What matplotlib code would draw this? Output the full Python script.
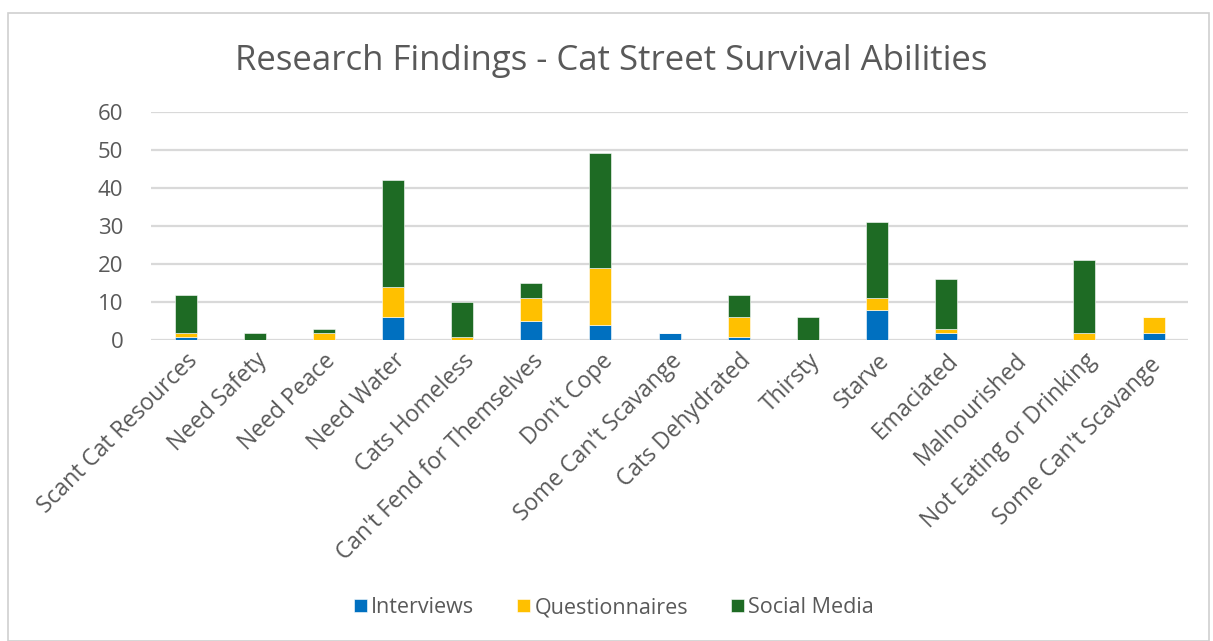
import numpy as np
import matplotlib
matplotlib.use("Agg")
import matplotlib.pyplot as plt
from matplotlib.patches import Rectangle

# ── Survey counts per finding ─────────────────────────────
categories = [
    "Scant Cat Resources", "Need Safety", "Need Peace", "Need Water",
    "Cats Homeless", "Can't Fend for Themselves", "Don't Cope",
    "Some Can't Scavange", "Cats Dehydrated", "Thirsty", "Starve",
    "Emaciated", "Malnourished", "Not Eating or Drinking",
    "Some Can't Scavange ",
]
interviews     = [1, 0, 0, 6, 0, 5, 4, 2, 1, 0, 8, 2, 0, 0, 2]
questionnaires = [1, 0, 2, 8, 1, 6, 15, 0, 5, 0, 3, 1, 0, 2, 4]
social_media   = [10, 2, 1, 28, 9, 4, 30, 0, 6, 6, 20, 13, 0, 19, 0]
y_ticks = [0, 10, 20, 30, 40, 50, 60]

plt.rcParams['font.family'] = ['Open Sans', 'DejaVu Sans']
TEXT = '#595959'

fig = plt.figure(figsize=(12.13, 6.41), dpi=100)
fig.patches.append(Rectangle((0.007, 0.0), 0.99, 0.98, transform=fig.transFigure,
                             fill=False, edgecolor='#d0d0d0', linewidth=1.2))
ax = fig.add_axes([0.1245, 0.469, 0.855, 0.357])

x = np.arange(len(categories))
iv = np.array(interviews)
qs = np.array(questionnaires)
sm = np.array(social_media)
w = 0.32
edge = dict(edgecolor='white', linewidth=0.4)
ax.bar(x, iv, w, color='#0070C0', label='Interviews', zorder=3, **edge)
ax.bar(x, qs, w, bottom=iv, color='#FFC000', label='Questionnaires', zorder=3, **edge)
ax.bar(x, sm, w, bottom=iv + qs, color='#1E6B24', label='Social Media', zorder=3, **edge)

ax.set_xlim(-0.5, len(categories) - 0.5)
ax.set_ylim(0, 60)
ax.set_yticks(y_ticks)
ax.yaxis.grid(True, color='#d9d9d9', linewidth=1.6, zorder=0)
for s in ax.spines.values():
    s.set_visible(False)
ax.tick_params(axis='both', length=0, colors=TEXT, labelsize=16)
ax.tick_params(axis='x', labelsize=16.5, pad=6)
ax.tick_params(axis='y', pad=20)
ax.set_xticks(x)
ax.set_xticklabels(categories, rotation=45, ha='right', rotation_mode='anchor')

fig.text(0.504, 0.905, 'Research Findings - Cat Street Survival Abilities',
         ha='center', va='center', fontsize=25, color=TEXT)

fig.legend(loc='center', bbox_to_anchor=(0.506, 0.052), ncol=3, frameon=False,
           fontsize=15.5, labelcolor=TEXT, handlelength=0.6, handleheight=0.6,
           handletextpad=0.2, columnspacing=2.0)

fig.savefig('out.png', dpi=100)
